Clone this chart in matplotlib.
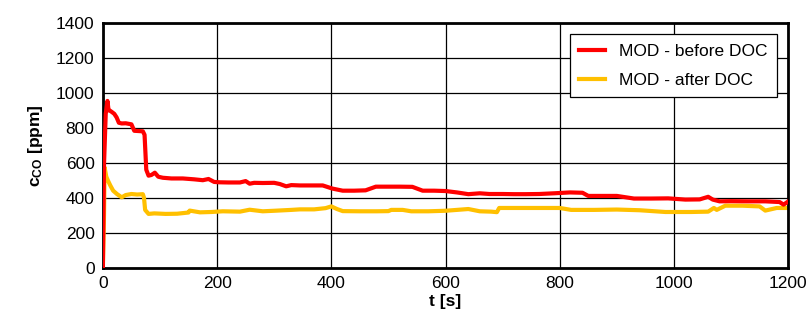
import matplotlib
matplotlib.use("Agg")
import matplotlib.pyplot as plt

plt.rcParams['font.family'] = ['Liberation Sans', 'DejaVu Sans']
plt.rcParams['mathtext.fontset'] = 'custom'
plt.rcParams['mathtext.rm'] = 'Liberation Sans:bold'
plt.rcParams['mathtext.bf'] = 'Liberation Sans:bold'
plt.rcParams['mathtext.it'] = 'Liberation Sans:bold'

# ---- data ----
t_before = [0, 2, 5, 8, 10, 13, 16, 20, 24, 28, 33, 40, 50, 55, 60, 70, 73, 76, 80, 85, 91, 97,
            105, 120, 140, 160, 175, 185, 195, 205, 220, 240, 250, 257, 265, 280, 300, 310, 321,
            330, 345, 365, 385, 402, 420, 440, 460, 478, 500, 520, 542, 560, 580, 600, 620, 640,
            660, 677, 700, 720, 740, 764, 790, 818, 840, 850, 870, 900, 930, 960, 990, 1020, 1045,
            1060, 1068, 1080, 1100, 1130, 1160, 1185, 1192, 1200]
c_before = [0, 590, 880, 954, 900, 897, 890, 880, 860, 829, 825, 826, 820, 783, 782, 780, 760, 560,
            526, 530, 543, 520, 514, 510, 510, 505, 500, 507, 490, 488, 487, 487, 495, 480, 485,
            484, 485, 478, 465, 472, 470, 470, 470, 452, 440, 440, 442, 463, 463, 463, 462, 440,
            440, 438, 430, 420, 425, 421, 421, 420, 420, 421, 425, 430, 428, 410, 410, 410, 395,
            395, 396, 389, 390, 405, 389, 379, 380, 379, 379, 375, 360, 378]

t_after = [0, 2, 3, 6, 9, 13, 18, 25, 33, 40, 50, 60, 70, 72, 74, 80, 90, 110, 130, 150, 152, 170,
           190, 210, 240, 257, 280, 300, 330, 345, 370, 390, 400, 410, 420, 450, 480, 500, 505, 525,
           540, 570, 600, 640, 660, 680, 690, 694, 720, 760, 800, 820, 860, 900, 940, 985, 1000,
           1030, 1060, 1070, 1075, 1090, 1120, 1150, 1160, 1180, 1200]
c_after = [0, 300, 573, 520, 497, 470, 440, 420, 402, 415, 421, 418, 420, 400, 330, 307, 310, 307,
           308, 315, 326, 316, 318, 322, 320, 331, 322, 325, 330, 333, 333, 340, 350, 335, 323, 322,
           322, 323, 330, 330, 322, 322, 325, 335, 322, 320, 317, 341, 341, 341, 341, 330, 330,
           332, 328, 318, 318, 318, 320, 341, 330, 354, 354, 350, 326, 341, 341]

series_labels = ['MOD - before DOC', 'MOD - after DOC']
x_ticks = [0, 200, 400, 600, 800, 1000, 1200]
y_ticks = [0, 200, 400, 600, 800, 1000, 1200, 1400]

fig = plt.figure(figsize=(8.1, 3.2), dpi=100)
ax = fig.add_axes([0.127, 0.164, 0.846, 0.764])

ax.plot(t_before, c_before, color='#FF0000', lw=3.0, label=series_labels[0], zorder=3,
        solid_joinstyle='round')
ax.plot(t_after, c_after, color='#FFC000', lw=3.0, label=series_labels[1], zorder=2,
        solid_joinstyle='round')

ax.set_xlim(0, 1200)
ax.set_ylim(0, 1400)
ax.set_xticks(x_ticks)
ax.set_yticks(y_ticks)
ax.tick_params(length=0, labelsize=12.5, pad=6)
ax.grid(True, color='black', lw=0.9)
ax.set_axisbelow(True)
for s in ax.spines.values():
    s.set_linewidth(2)
    s.set_color('black')

ax.set_xlabel('t [s]', fontsize=12.5, fontweight='bold', labelpad=2)
ax.set_ylabel(r'c$_{\mathregular{CO}}$ [ppm]', fontsize=12.5, fontweight='bold', labelpad=8)

leg = ax.legend(loc='upper right', bbox_to_anchor=(0.984, 0.955), fontsize=12.5,
                frameon=True, fancybox=False, edgecolor='black', framealpha=1,
                handlelength=1.5, handletextpad=0.8, borderpad=0.55, labelspacing=0.8,
                borderaxespad=0)
leg.get_frame().set_linewidth(0.9)

fig.savefig('out.png', dpi=100)
